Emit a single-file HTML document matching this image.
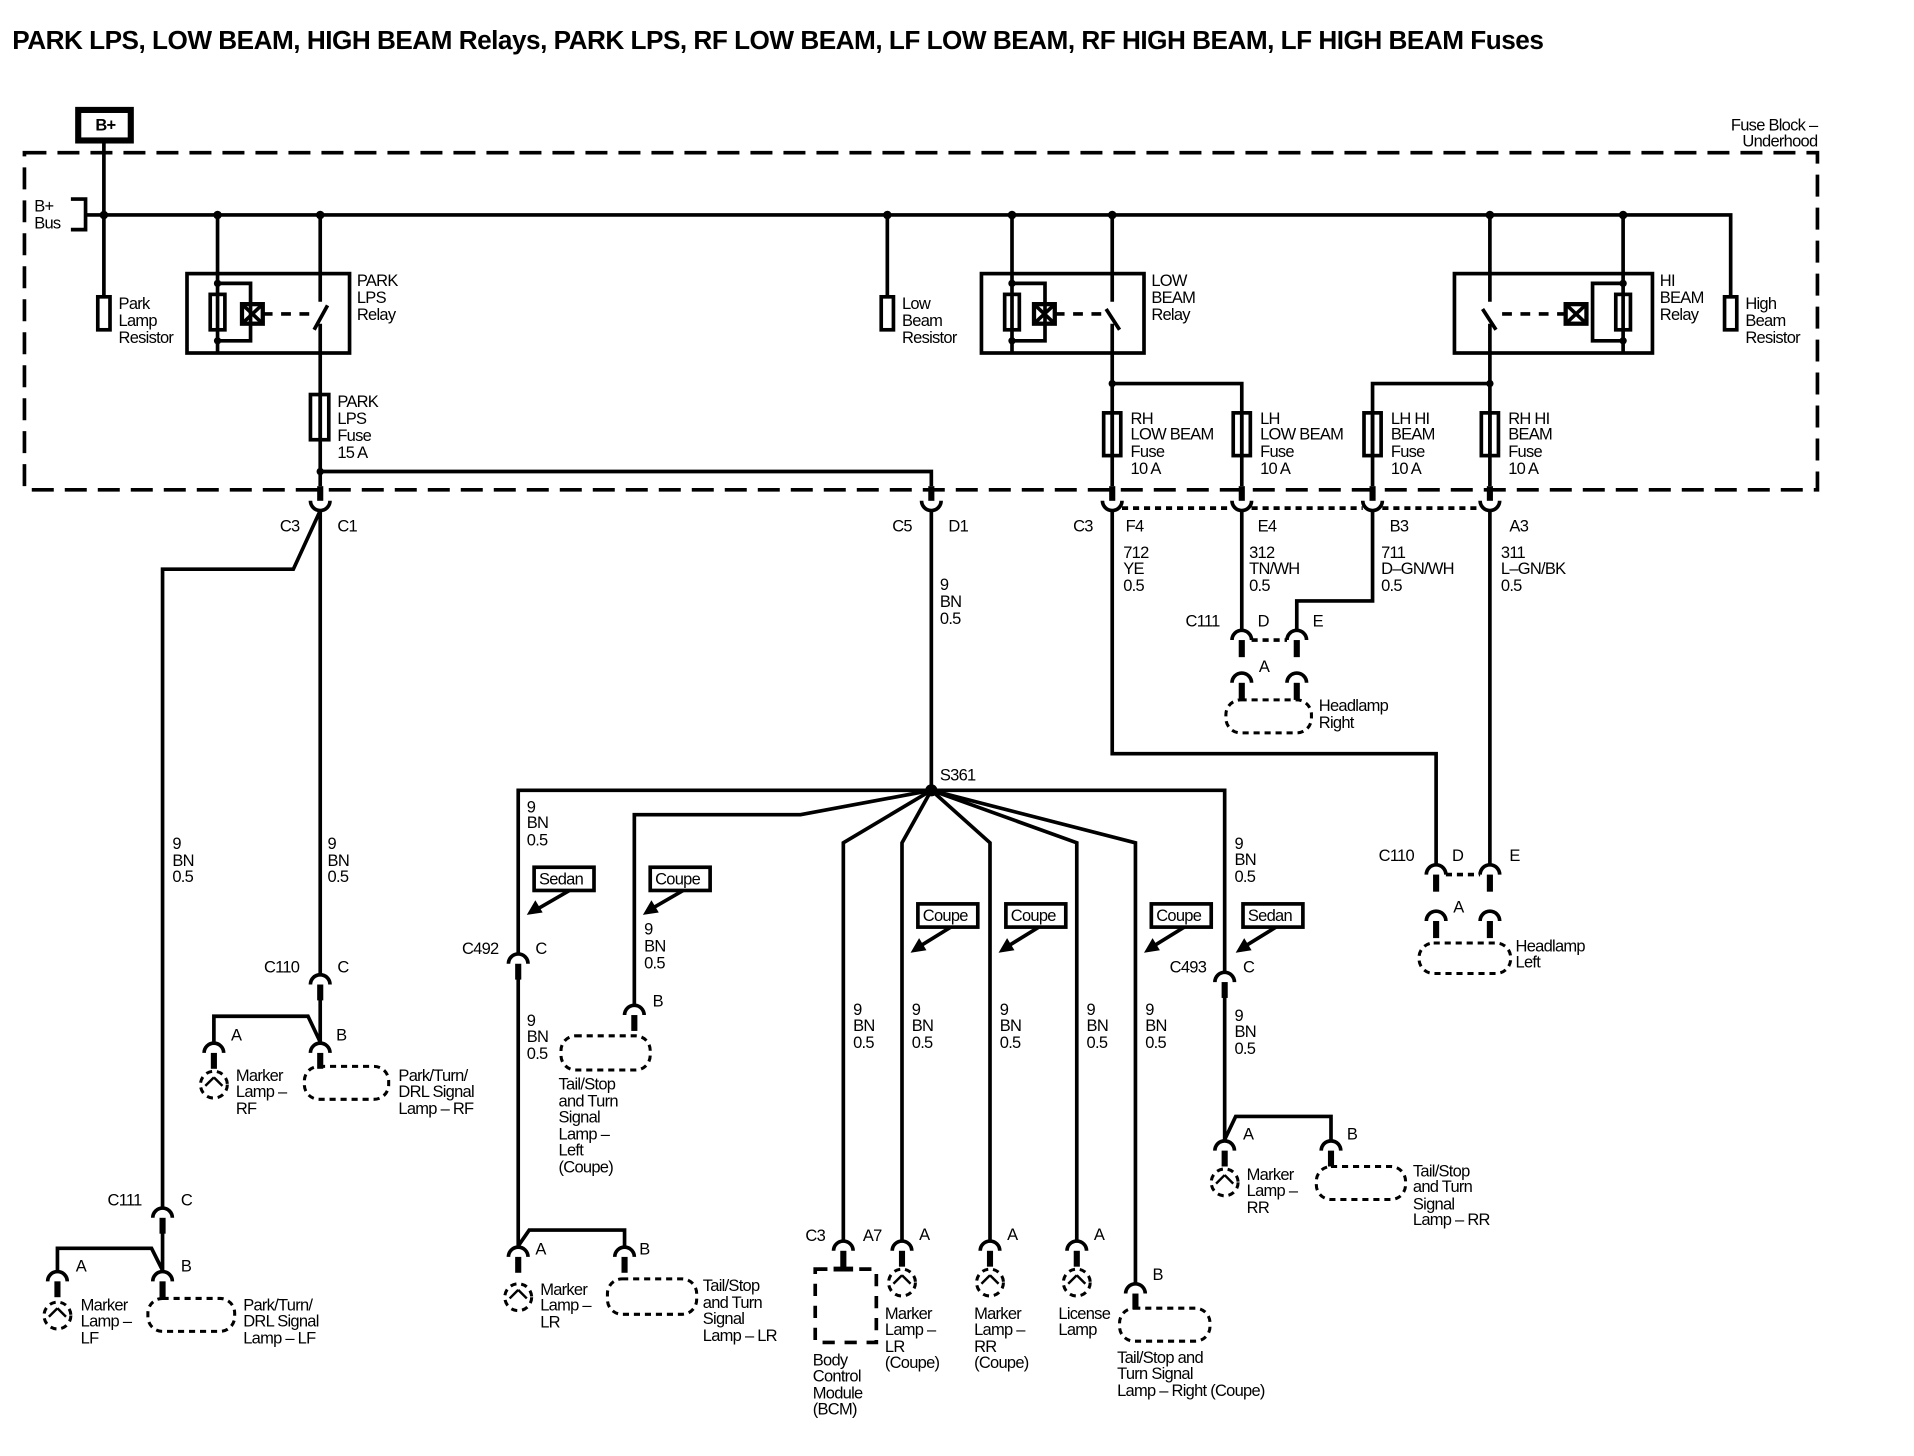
<!DOCTYPE html>
<html><head><meta charset="utf-8"><style>
html,body{margin:0;padding:0;background:#fff;}
svg{display:block}
text{font-family:"Liberation Sans",sans-serif;font-size:13.5px;letter-spacing:-0.6px;fill:#000;stroke:none}
.b{font-weight:bold}
</style></head><body>
<svg width="1914" height="1456" viewBox="0 0 1566 1192" preserveAspectRatio="none" xmlns="http://www.w3.org/2000/svg">
<rect width="1570" height="1200" fill="#fff"/>
<text x="10" y="40" class="b" style="font-size:21.4px;letter-spacing:-0.4px">PARK LPS, LOW BEAM, HIGH BEAM Relays, PARK LPS, RF LOW BEAM, LF LOW BEAM, RF HIGH BEAM, LF HIGH BEAM Fuses</text>

<g stroke="#000" stroke-width="3" fill="none">
<rect x="64" y="90" width="43" height="25" stroke-width="5"/>
<rect x="20" y="125" width="1467" height="276" stroke-dasharray="18,9"/>
<path d="M58,163 H70 V188 H58"/>
<path d="M85,116 V243"/>
<rect x="80" y="243" width="10" height="27"/>
<path d="M70,176 H1416 V243"/>
<rect x="1411" y="243" width="10" height="27"/>
<path d="M726,176 V243"/><rect x="721" y="243" width="10" height="27"/>

<rect x="153" y="224" width="133" height="65"/>
<path d="M178,176 V289 M178,232 H205 V279 H178"/>
<rect x="172" y="241" width="12" height="29"/>
<rect x="198" y="249" width="17" height="16" stroke-width="3.5"/>
<path d="M198,249 L215,265 M215,249 L198,265"/>
<path d="M215,257 H256" stroke-dasharray="8,7"/>
<path d="M262,176 V247 M257,270 L268,250 M262,265 V398"/>
<rect x="254" y="323" width="15" height="37"/><path d="M262,323 V360"/>
<path d="M262,386 H762 V398"/>

<rect x="803" y="224" width="133" height="65"/>
<path d="M828,176 V289 M828,232 H855 V279 H828"/>
<rect x="822" y="241" width="12" height="29"/>
<rect x="846" y="249" width="17" height="16" stroke-width="3.5"/>
<path d="M846,249 L863,265 M863,249 L846,265"/>
<path d="M863,257 H905" stroke-dasharray="8,7"/>
<path d="M910,176 V247 M905,253 L916,270 M910,265 V398"/>
<path d="M910,314 H1016 V398"/>

<rect x="1190" y="224" width="162" height="65"/>
<path d="M1328,176 V289 M1328,232 H1303 V279 H1328"/>
<rect x="1322" y="241" width="12" height="29"/>
<rect x="1281" y="249" width="17" height="16" stroke-width="3.5"/>
<path d="M1281,249 L1298,265 M1298,249 L1281,265"/>
<path d="M1229,257 H1281" stroke-dasharray="8,7"/>
<path d="M1219,176 V247 M1213,253 L1224,270 M1219,265 V398" />
<path d="M1219,314 H1123 V398"/>

<rect x="903" y="338" width="14" height="35"/><path d="M910,338 V373"/>
<rect x="1009" y="338" width="14" height="35"/><path d="M1016,338 V373"/>
<rect x="1116" y="338" width="14" height="35"/><path d="M1123,338 V373"/>
<rect x="1212" y="338" width="14" height="35"/><path d="M1219,338 V373"/>

<path d="M254,410 A8,8 0 0 0 270,410 M754,410 A8,8 0 0 0 770,410 M902,410 A8,8 0 0 0 918,410 M1008,410 A8,8 0 0 0 1024,410 M1115,410 A8,8 0 0 0 1131,410 M1211,410 A8,8 0 0 0 1227,410"/>
<path d="M918,416 H1008 M1024,416 H1115 M1131,416 H1211" stroke-dasharray="5,4"/>

<path d="M262,418 V797"/>
<path d="M262,418 L240,466 H133 V988"/>
<path d="M762,418 V647"/>
<path d="M910,418 V617 H1175 V707"/>
<path d="M1219,418 V707"/>
<path d="M1016,418 V515"/>
<path d="M1123,418 V492 H1061 V515"/>
<path d="M1024,524 H1053 M1183,716 H1211" stroke-dasharray="5,4"/>

<path d="M762,647 H424 V780"/>
<path d="M762,647 L655,667 H519 V822"/>
<path d="M762,647 L690,690 V1015"/>
<path d="M762,647 L738,690 V1015"/>
<path d="M762,647 L810,690 V1015"/>
<path d="M762,647 L881,690 V1015"/>
<path d="M762,647 L929,690 V1050"/>
<path d="M762,647 H1002 V795"/>

<path d="M262,817 V853 M175,853 V832 H252 L262,853"/>
<path d="M133,1008 V1040 M47,1040 V1022 H124 L133,1040"/>
<path d="M424,800 V1020 M424,1020 L433,1007 H511 V1020"/>
<path d="M1002,815 V933 M1002,933 L1011,914 H1089 V933"/>

<path d="M254,806 A8,8 0 0 1 270,806 M167,862 A8,8 0 0 1 183,862 M254,862 A8,8 0 0 1 270,862
M125,997 A8,8 0 0 1 141,997 M39,1049 A8,8 0 0 1 55,1049 M125,1049 A8,8 0 0 1 141,1049
M416,789 A8,8 0 0 1 432,789 M416,1029 A8,8 0 0 1 432,1029 M503,1029 A8,8 0 0 1 519,1029
M511,831 A8,8 0 0 1 527,831 M682,1024 A8,8 0 0 1 698,1024 M730,1024 A8,8 0 0 1 746,1024
M802,1024 A8,8 0 0 1 818,1024 M873,1024 A8,8 0 0 1 889,1024 M921,1059 A8,8 0 0 1 937,1059
M994,804 A8,8 0 0 1 1010,804 M994,942 A8,8 0 0 1 1010,942 M1081,942 A8,8 0 0 1 1097,942
M1008,524 A8,8 0 0 1 1024,524 M1053,524 A8,8 0 0 1 1069,524 M1008,559 A8,8 0 0 1 1024,559 M1053,559 A8,8 0 0 1 1069,559
M1167,716 A8,8 0 0 1 1183,716 M1211,716 A8,8 0 0 1 1227,716 M1167,754 A8,8 0 0 1 1183,754 M1211,754 A8,8 0 0 1 1227,754"/>

<g stroke-dasharray="5,4" stroke-width="2.5">
<circle cx="175" cy="888" r="11"/><rect x="249" y="873" width="69" height="27" rx="12"/>
<circle cx="47" cy="1077" r="11"/><rect x="121" y="1063" width="71" height="27" rx="12"/>
<circle cx="424" cy="1062" r="11"/><rect x="497" y="1047" width="73" height="29" rx="12"/>
<rect x="459" y="848" width="73" height="28" rx="12"/>
<rect x="667" y="1039" width="50" height="60" stroke-dasharray="10,8" stroke-width="3"/>
<circle cx="738" cy="1050" r="11"/><circle cx="810" cy="1050" r="11"/><circle cx="881" cy="1050" r="11"/>
<rect x="916" y="1071" width="74" height="27" rx="12"/>
<circle cx="1002" cy="968" r="11"/><rect x="1077" y="955" width="73" height="27" rx="12"/>
<rect x="1003" y="573" width="70" height="27" rx="12"/>
<rect x="1161" y="772" width="75" height="25" rx="12"/>
</g>
<path d="M682,1039 H698" stroke-width="4"/>
<path d="M738,1044 L731,1051 M738,1044 L745,1051 M810,1044 L803,1051 M810,1044 L817,1051 M881,1044 L874,1051 M881,1044 L888,1051 M1002,962 L995,969 M1002,962 L1009,969 M424,1056 L417,1063 M424,1056 L431,1063 M175,882 L168,889 M175,882 L182,889 M47,1071 L40,1078 M47,1071 L54,1078" stroke-width="2"/>

<rect x="437" y="710" width="49" height="19"/><path d="M466,729 L440,744"/>
<rect x="532" y="710" width="49" height="19"/><path d="M559,729 L533,744"/>
<rect x="751" y="740" width="49" height="19"/><path d="M778,759 L752,775"/>
<rect x="823" y="740" width="49" height="19"/><path d="M850,759 L824,775"/>
<rect x="942" y="740" width="49" height="19"/><path d="M969,759 L943,775"/>
<rect x="1017" y="740" width="49" height="19"/><path d="M1044,759 L1018,775"/>
</g>

<g fill="#000" stroke="none">
<rect x="259.5" y="398" width="5" height="12"/><rect x="759.5" y="398" width="5" height="12"/><rect x="907.5" y="398" width="5" height="12"/><rect x="1013.5" y="398" width="5" height="12"/><rect x="1120.5" y="398" width="5" height="12"/><rect x="1216.5" y="398" width="5" height="12"/>
<rect x="259.5" y="806" width="5" height="13"/><rect x="172.5" y="862" width="5" height="13"/><rect x="259.5" y="862" width="5" height="13"/>
<rect x="130.5" y="997" width="5" height="13"/><rect x="44.5" y="1049" width="5" height="13"/><rect x="130.5" y="1049" width="5" height="13"/>
<rect x="421.5" y="789" width="5" height="13"/><rect x="421.5" y="1029" width="5" height="13"/><rect x="508.5" y="1029" width="5" height="13"/>
<rect x="516.5" y="831" width="5" height="13"/><rect x="687.5" y="1024" width="5" height="14"/><rect x="735.5" y="1024" width="5" height="13"/>
<rect x="807.5" y="1024" width="5" height="13"/><rect x="878.5" y="1024" width="5" height="13"/><rect x="926.5" y="1059" width="5" height="13"/>
<rect x="999.5" y="804" width="5" height="13"/><rect x="999.5" y="942" width="5" height="13"/><rect x="1086.5" y="942" width="5" height="13"/>
<rect x="1013.5" y="524" width="5" height="14"/><rect x="1058.5" y="524" width="5" height="14"/><rect x="1013.5" y="559" width="5" height="14"/><rect x="1058.5" y="559" width="5" height="14"/>
<rect x="1172.5" y="716" width="5" height="14"/><rect x="1216.5" y="716" width="5" height="14"/><rect x="1172.5" y="754" width="5" height="14"/><rect x="1216.5" y="754" width="5" height="14"/>
<circle cx="85" cy="176" r="3.5"/><circle cx="178" cy="176" r="3.5"/><circle cx="262" cy="176" r="3.5"/><circle cx="726" cy="176" r="3.5"/><circle cx="828" cy="176" r="3.5"/><circle cx="910" cy="176" r="3.5"/><circle cx="1219" cy="176" r="3.5"/><circle cx="1328" cy="176" r="3.5"/>
<circle cx="178" cy="232" r="3"/><circle cx="178" cy="279" r="3"/><circle cx="828" cy="232" r="3"/><circle cx="828" cy="279" r="3"/><circle cx="1328" cy="232" r="3"/><circle cx="1328" cy="279" r="3"/>
<circle cx="262" cy="386" r="3"/><circle cx="910" cy="314" r="3"/><circle cx="1219" cy="314" r="3"/>
<circle cx="762" cy="647" r="5"/>
<polygon points="431,749 438,737 444,747"/><polygon points="526,749 533,737 539,747"/>
<polygon points="745,780 752,768 758,778"/><polygon points="817,780 824,768 830,778"/>
<polygon points="936,780 943,768 949,778"/><polygon points="1011,780 1018,768 1024,778"/>
</g>

<text x="78" y="107" class="b">B+</text>
<text x="1487" y="107" text-anchor="end">Fuse Block –</text><text x="1487" y="120" text-anchor="end">Underhood</text>
<text x="28" y="173">B+</text><text x="28" y="187">Bus</text>
<text x="97" y="253">Park</text><text x="97" y="267">Lamp</text><text x="97" y="281">Resistor</text>
<text x="292" y="234">PARK</text><text x="292" y="248">LPS</text><text x="292" y="262">Relay</text>
<text x="276" y="333">PARK</text><text x="276" y="347">LPS</text><text x="276" y="361">Fuse</text><text x="276" y="375">15 A</text>
<text x="738" y="253">Low</text><text x="738" y="267">Beam</text><text x="738" y="281">Resistor</text>
<text x="942" y="234">LOW</text><text x="942" y="248">BEAM</text><text x="942" y="262">Relay</text>
<text x="1358" y="234">HI</text><text x="1358" y="248">BEAM</text><text x="1358" y="262">Relay</text>
<text x="1428" y="253">High</text><text x="1428" y="267">Beam</text><text x="1428" y="281">Resistor</text>
<text x="925" y="347">RH</text><text x="925" y="360">LOW BEAM</text><text x="925" y="374">Fuse</text><text x="925" y="388">10 A</text>
<text x="1031" y="347">LH</text><text x="1031" y="360">LOW BEAM</text><text x="1031" y="374">Fuse</text><text x="1031" y="388">10 A</text>
<text x="1138" y="347">LH HI</text><text x="1138" y="360">BEAM</text><text x="1138" y="374">Fuse</text><text x="1138" y="388">10 A</text>
<text x="1234" y="347">RH HI</text><text x="1234" y="360">BEAM</text><text x="1234" y="374">Fuse</text><text x="1234" y="388">10 A</text>

<text x="229" y="435">C3</text><text x="276" y="435">C1</text>
<text x="730" y="435">C5</text><text x="776" y="435">D1</text>
<text x="878" y="435">C3</text><text x="921" y="435">F4</text><text x="1029" y="435">E4</text><text x="1137" y="435">B3</text><text x="1235" y="435">A3</text>
<text x="919" y="457">712</text><text x="919" y="470">YE</text><text x="919" y="484">0.5</text>
<text x="1022" y="457">312</text><text x="1022" y="470">TN/WH</text><text x="1022" y="484">0.5</text>
<text x="1130" y="457">711</text><text x="1130" y="470">D–GN/WH</text><text x="1130" y="484">0.5</text>
<text x="1228" y="457">311</text><text x="1228" y="470">L–GN/BK</text><text x="1228" y="484">0.5</text>
<text x="769" y="483">9</text><text x="769" y="497">BN</text><text x="769" y="511">0.5</text>
<text x="970" y="513">C111</text><text x="1029" y="513">D</text><text x="1074" y="513">E</text>
<text x="1030" y="550">A</text>
<text x="1079" y="582">Headlamp</text><text x="1079" y="596">Right</text>
<text x="769" y="639">S361</text>
<text x="1128" y="705">C110</text><text x="1188" y="705">D</text><text x="1235" y="705">E</text>
<text x="1189" y="747">A</text>
<text x="1240" y="779">Headlamp</text><text x="1240" y="792">Left</text>

<text x="141" y="695">9</text><text x="141" y="709">BN</text><text x="141" y="722">0.5</text>
<text x="268" y="695">9</text><text x="268" y="709">BN</text><text x="268" y="722">0.5</text>
<text x="216" y="796">C110</text><text x="276" y="796">C</text>
<text x="189" y="852">A</text><text x="275" y="852">B</text>
<text x="193" y="885">Marker</text><text x="193" y="898">Lamp –</text><text x="193" y="912">RF</text>
<text x="326" y="885">Park/Turn/</text><text x="326" y="898">DRL Signal</text><text x="326" y="912">Lamp – RF</text>
<text x="88" y="987">C111</text><text x="148" y="987">C</text>
<text x="62" y="1041">A</text><text x="148" y="1041">B</text>
<text x="66" y="1073">Marker</text><text x="66" y="1086">Lamp –</text><text x="66" y="1100">LF</text>
<text x="199" y="1073">Park/Turn/</text><text x="199" y="1086">DRL Signal</text><text x="199" y="1100">Lamp – LF</text>

<text x="431" y="665">9</text><text x="431" y="678">BN</text><text x="431" y="692">0.5</text>
<text x="441" y="724">Sedan</text><text x="536" y="724">Coupe</text>
<text x="378" y="781">C492</text><text x="438" y="781">C</text>
<text x="431" y="840">9</text><text x="431" y="853">BN</text><text x="431" y="867">0.5</text>
<text x="527" y="765">9</text><text x="527" y="779">BN</text><text x="527" y="793">0.5</text>
<text x="534" y="824">B</text>
<text x="457" y="892">Tail/Stop</text><text x="457" y="906">and Turn</text><text x="457" y="919">Signal</text><text x="457" y="933">Lamp –</text><text x="457" y="946">Left</text><text x="457" y="960">(Coupe)</text>
<text x="438" y="1027">A</text><text x="523" y="1027">B</text>
<text x="442" y="1060">Marker</text><text x="442" y="1073">Lamp –</text><text x="442" y="1087">LR</text>
<text x="575" y="1057">Tail/Stop</text><text x="575" y="1071">and Turn</text><text x="575" y="1084">Signal</text><text x="575" y="1098">Lamp – LR</text>

<text x="755" y="754">Coupe</text><text x="827" y="754">Coupe</text><text x="946" y="754">Coupe</text><text x="1021" y="754">Sedan</text>
<text x="698" y="831">9</text><text x="698" y="844">BN</text><text x="698" y="858">0.5</text>
<text x="746" y="831">9</text><text x="746" y="844">BN</text><text x="746" y="858">0.5</text>
<text x="818" y="831">9</text><text x="818" y="844">BN</text><text x="818" y="858">0.5</text>
<text x="889" y="831">9</text><text x="889" y="844">BN</text><text x="889" y="858">0.5</text>
<text x="937" y="831">9</text><text x="937" y="844">BN</text><text x="937" y="858">0.5</text>
<text x="1010" y="695">9</text><text x="1010" y="708">BN</text><text x="1010" y="722">0.5</text>
<text x="957" y="796">C493</text><text x="1017" y="796">C</text>
<text x="1010" y="836">9</text><text x="1010" y="849">BN</text><text x="1010" y="863">0.5</text>
<text x="1017" y="933">A</text><text x="1102" y="933">B</text>
<text x="1020" y="966">Marker</text><text x="1020" y="979">Lamp –</text><text x="1020" y="993">RR</text>
<text x="1156" y="963">Tail/Stop</text><text x="1156" y="976">and Turn</text><text x="1156" y="990">Signal</text><text x="1156" y="1003">Lamp – RR</text>

<text x="659" y="1016">C3</text><text x="706" y="1016">A7</text>
<text x="752" y="1015">A</text><text x="824" y="1015">A</text><text x="895" y="1015">A</text><text x="943" y="1048">B</text>
<text x="665" y="1118">Body</text><text x="665" y="1131">Control</text><text x="665" y="1145">Module</text><text x="665" y="1158">(BCM)</text>
<text x="724" y="1080">Marker</text><text x="724" y="1093">Lamp –</text><text x="724" y="1107">LR</text><text x="724" y="1120">(Coupe)</text>
<text x="797" y="1080">Marker</text><text x="797" y="1093">Lamp –</text><text x="797" y="1107">RR</text><text x="797" y="1120">(Coupe)</text>
<text x="866" y="1080">License</text><text x="866" y="1093">Lamp</text>
<text x="914" y="1116">Tail/Stop and</text><text x="914" y="1129">Turn Signal</text><text x="914" y="1143">Lamp – Right (Coupe)</text>
</svg>
</body></html>
